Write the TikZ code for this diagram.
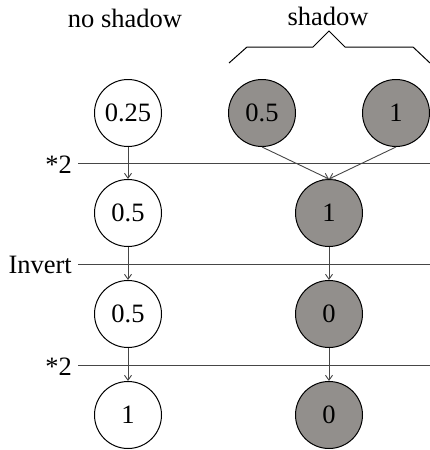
\documentclass[tikz,border=0pt]{standalone}
\usepackage{fontspec}
\setmainfont{Liberation Serif}
\usetikzlibrary{arrows.meta}
\definecolor{shade}{RGB}{146,143,140}
\definecolor{ln}{RGB}{70,70,70}
\begin{document}
\begin{tikzpicture}[x=1pt,y=-1pt,
  font=\fontsize{26.5}{30}\selectfont,
  val/.style={circle,draw=black,line width=1pt,minimum size=67pt,inner sep=0pt},
  sh/.style={val,fill=shade},
  arr/.style={draw=ln,line width=0.9pt,-{Straight Barb[length=5pt,width=7pt]}},
  hline/.style={draw=ln,line width=1pt},
  lab/.style={anchor=base east,inner sep=0pt},
  hdr/.style={anchor=base,inner sep=0pt}]
\useasboundingbox (0,0) rectangle (430,450);
% headers
\node[hdr] (hns) at (125,27) {no shadow};
\node[hdr] (hs) at (328,25) {shadow};
\draw[line width=1pt] (229,63) -- (247,47) -- (313,47) -- (329,31) -- (345,47) -- (413,47) -- (430,63);
% lines
\coordinate (l1a) at (78,163); \coordinate (l1b) at (430,163);
\coordinate (l2a) at (78,264); \coordinate (l2b) at (430,264);
\coordinate (l3a) at (78,365); \coordinate (l3b) at (430,365);
\draw[hline] (l1a) -- (l1b);
\draw[hline] (l2a) -- (l2b);
\draw[hline] (l3a) -- (l3b);
\node[lab] (t1) at (72,173) {*2};
\node[lab] (t2) at (72,273) {Invert};
\node[lab] (t3) at (72,375) {*2};
% nodes
\node[val] (a1) at (128,113) {0.25};
\node[val] (a2) at (128,213) {0.5};
\node[val] (a3) at (128,314) {0.5};
\node[val] (a4) at (128,415) {1};
\node[sh] (b1) at (262,113) {0.5};
\node[sh] (c1) at (396,113) {1};
\node[sh] (b2) at (329,213) {1};
\node[sh] (b3) at (329,314) {0};
\node[sh] (b4) at (329,415) {0};
% arrows
\draw[arr] (a1.south) -- (a2.north);
\draw[arr] (a2.south) -- (a3.north);
\draw[arr] (a3.south) -- (a4.north);
\draw[arr] (b1.south) -- (b2.north);
\draw[arr] (c1.south) -- (b2.north);
\draw[arr] (b2.south) -- (b3.north);
\draw[arr] (b3.south) -- (b4.north);
\end{tikzpicture}
\end{document}
